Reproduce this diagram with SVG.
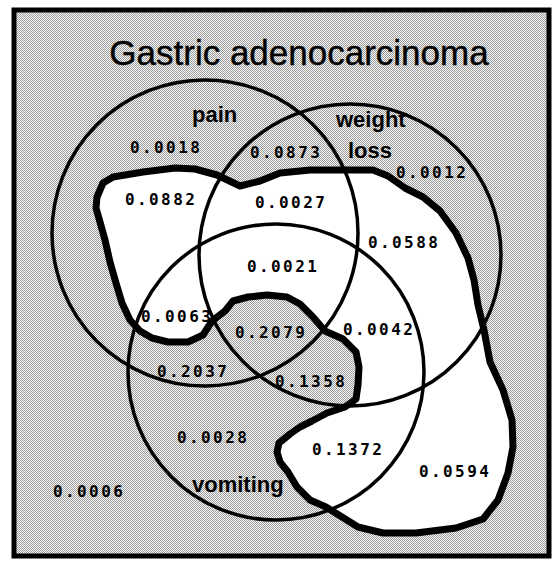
<svg xmlns="http://www.w3.org/2000/svg" width="552" height="563" viewBox="0 0 552 563">
<defs>
<pattern id="stip" width="2" height="2" patternUnits="userSpaceOnUse">
<rect width="2" height="2" fill="#fafafa"/>
<rect x="0" y="0" width="1" height="1" fill="#9a9a9a"/>
<rect x="1" y="1" width="1" height="1" fill="#9a9a9a"/>
</pattern>
</defs>
<style>
.circ{fill:none;stroke:#000;stroke-width:3.5}
.blob{stroke:#000;stroke-width:7;stroke-linejoin:round}
.title{font-family:"Liberation Sans",Arial,sans-serif;font-size:35px;fill:#000;stroke:#000;stroke-width:0.4}
.lab{font-family:"Liberation Sans",Arial,sans-serif;font-size:22px;font-weight:bold;fill:#000}
.num{font-family:"DejaVu Sans Mono",monospace;font-size:16px;font-weight:bold;letter-spacing:2.4px;fill:#000}
</style>
<rect width="552" height="563" fill="#fff"/>
<g id="frame">
<rect x="14" y="10" width="535" height="546" fill="url(#stip)" stroke="#000" stroke-width="5"/>
</g>
<g id="blob-fill">
<path fill="#fff" d="M97,197 L103,183 L113,177 L143,172 L175,168 L195,169 L217,175 L240,186 L260,181 L280,173 L310,170 L373,170 L388,176 L405,188 L423,197 L440,211 L456,233 L468,258 L474,280 L478,305 L484,330 L490,362 L503,390 L512,420 L513,447 L508,473 L498,500 L483,519 L456,528 L416,533 L383,533 L358,527 L342,517 L326,507 L310,500 L297,487 L288,472 L280,462 L277,452 L279,443 L290,434 L300,427 L312,421 L327,413 L345,407 L356,399 L358,385 L359,367 L356,352 L343,339 L325,331 L313,317 L300,304 L287,297 L267,295 L248,297 L233,301 L225,311 L212,321 L203,335 L188,342 L168,342 L152,338 L140,331 L130,320 L122,303 L116,283 L110,262 L105,240 L100,222 L96,208 Z"/>
</g>
<g id="circles">
<circle id="pain" class="circ" cx="205" cy="233" r="153"/>
<circle id="weight-loss" class="circ" cx="350" cy="255" r="151"/>
<circle id="vomiting" class="circ" cx="276" cy="372" r="148"/>
</g>
<g id="blob">
<path class="blob" fill="none" d="M97,197 L103,183 L113,177 L143,172 L175,168 L195,169 L217,175 L240,186 L260,181 L280,173 L310,170 L373,170 L388,176 L405,188 L423,197 L440,211 L456,233 L468,258 L474,280 L478,305 L484,330 L490,362 L503,390 L512,420 L513,447 L508,473 L498,500 L483,519 L456,528 L416,533 L383,533 L358,527 L342,517 L326,507 L310,500 L297,487 L288,472 L280,462 L277,452 L279,443 L290,434 L300,427 L312,421 L327,413 L345,407 L356,399 L358,385 L359,367 L356,352 L343,339 L325,331 L313,317 L300,304 L287,297 L267,295 L248,297 L233,301 L225,311 L212,321 L203,335 L188,342 L168,342 L152,338 L140,331 L130,320 L122,303 L116,283 L110,262 L105,240 L100,222 L96,208 Z"/>
</g>
<g id="labels">
<text class="title" x="299" y="65" text-anchor="middle">Gastric adenocarcinoma</text>
<text class="lab" x="192" y="122">pain</text>
<text class="lab" x="336" y="127">weight</text>
<text class="lab" x="348" y="158">loss</text>
<text class="lab" x="192" y="492">vomiting</text>
</g>
<g id="values">
<text class="num" x="130" y="153">0.0018</text>
<text class="num" x="125" y="205">0.0882</text>
<text class="num" x="250" y="158">0.0873</text>
<text class="num" x="396" y="178">0.0012</text>
<text class="num" x="255" y="208">0.0027</text>
<text class="num" x="368" y="248">0.0588</text>
<text class="num" x="247" y="272">0.0021</text>
<text class="num" x="141" y="322">0.0063</text>
<text class="num" x="235" y="338">0.2079</text>
<text class="num" x="343" y="335">0.0042</text>
<text class="num" x="157" y="377">0.2037</text>
<text class="num" x="275" y="387">0.1358</text>
<text class="num" x="177" y="443">0.0028</text>
<text class="num" x="312" y="455">0.1372</text>
<text class="num" x="419" y="477">0.0594</text>
<text class="num" x="53" y="497">0.0006</text>
</g>
</svg>
